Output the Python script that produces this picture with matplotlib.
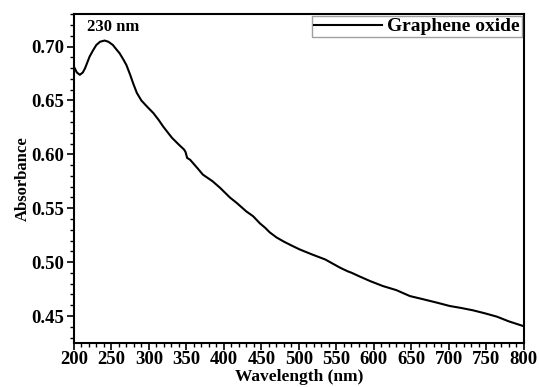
import matplotlib
matplotlib.use("Agg")
import matplotlib.pyplot as plt
from matplotlib.ticker import MultipleLocator

wavelength = [200, 204, 208, 212, 215, 221, 226, 230, 235, 241, 246, 252, 256, 261,
              266, 270, 275, 279, 284, 290, 298, 306, 313, 319, 325, 331, 340, 347,
              349, 351, 355, 365, 372, 385, 395, 408, 417, 430, 439, 448, 455, 461,
              470, 480, 490, 501, 518, 535, 555, 565, 570, 580, 595, 612, 630, 648,
              666, 684, 701, 716, 732, 748, 764, 780, 799]
absorbance = [0.6815, 0.676, 0.6738, 0.676, 0.680, 0.6907, 0.697, 0.7015, 0.7045, 0.7056,
              0.7045, 0.7015, 0.698, 0.6938, 0.688, 0.683, 0.674, 0.666, 0.657, 0.650,
              0.644, 0.6383, 0.632, 0.6259, 0.6205, 0.6152, 0.609, 0.6044, 0.602, 0.5967,
              0.595, 0.587, 0.5812, 0.575, 0.5689, 0.560, 0.555, 0.547, 0.5426, 0.536,
              0.5319, 0.5277, 0.523, 0.519, 0.5155, 0.5118, 0.507, 0.5025, 0.4948, 0.4915,
              0.4902, 0.487, 0.4824, 0.4778, 0.474, 0.4685, 0.4655, 0.4624, 0.4593, 0.4575,
              0.4553, 0.4525, 0.4494, 0.445, 0.4407]
x_ticks = [200, 250, 300, 350, 400, 450, 500, 550, 600, 650, 700, 750, 800]
y_ticks = [0.45, 0.50, 0.55, 0.60, 0.65, 0.70]

plt.rcParams['font.family'] = ['Liberation Serif', 'DejaVu Serif']
plt.rcParams['font.weight'] = 'bold'

fig = plt.figure(figsize=(5.39, 3.87), dpi=100)
ax = fig.add_axes([0.137, 0.113, 0.835, 0.851])

ax.plot(wavelength, absorbance, color='black', lw=1.5, label='Graphene oxide')

ax.set_xlim(200, 800)
ax.set_ylim(0.4247, 0.7303)
ax.set_xticks(x_ticks)
ax.set_yticks(y_ticks)
ax.set_xticklabels([str(v) for v in x_ticks], fontsize=13.5, fontweight='bold')
ax.set_yticklabels([f"{v:.2f}" for v in y_ticks], fontsize=13.5, fontweight='bold')
ax.xaxis.set_minor_locator(MultipleLocator(10))
ax.yaxis.set_minor_locator(MultipleLocator(0.01))
ax.tick_params(which='major', direction='out', length=5, width=1.2, pad=2)
ax.tick_params(axis='x', which='major', pad=0.5)
ax.tick_params(which='minor', direction='out', length=3, width=1.0)
ax.tick_params(top=False, right=False, which='both')
for s in ax.spines.values():
    s.set_linewidth(1.5)
    s.set_color('black')

ax.set_xlabel('Wavelength (nm)', fontsize=12.5, fontweight='bold', labelpad=0)
ax.xaxis.set_label_coords(0.5, -0.077)
ax.set_ylabel('Absorbance', fontsize=12, fontweight='bold', labelpad=0)

ax.text(217, 0.7185, '230 nm', fontsize=12, fontweight='bold', ha='left', va='center')

leg = ax.legend(loc='upper right', prop={'size': 14, 'weight': 'bold'}, frameon=True,
                fancybox=False, borderpad=0.1, handlelength=3.5, handletextpad=0.3,
                borderaxespad=0.1)
leg.get_frame().set_edgecolor('#888888')
leg.get_frame().set_linewidth(1.0)

fig.savefig('out.png', dpi=100)
